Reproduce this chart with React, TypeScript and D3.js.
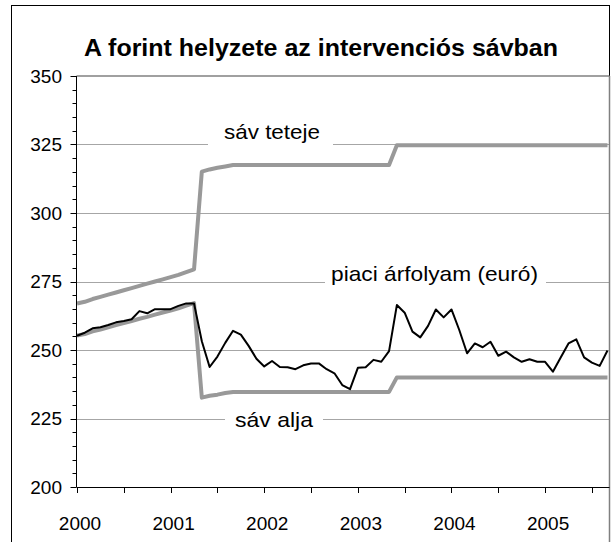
import React from 'react';
import * as d3 from 'd3';

const xTickLabels = ['2000', '2001', '2002', '2003', '2004', '2005'];
const yTicks = [200, 225, 250, 275, 300, 325, 350];
const gridValues = [225, 250, 275, 300, 325];

const upperBand = [
  267.0, 267.6, 268.6, 269.4, 270.2, 271.0, 271.8, 272.6, 273.4, 274.2, 275.0, 275.8, 276.6, 277.4, 278.4, 279.4,
  315.1, 315.9, 316.5, 317.0,
  317.5, 317.5, 317.5, 317.5, 317.5, 317.5, 317.5, 317.5, 317.5, 317.5, 317.5, 317.5, 317.5, 317.5, 317.5, 317.5,
  317.5, 317.5, 317.5, 317.5, 317.5,
  324.7, 324.7, 324.7, 324.7, 324.7, 324.7, 324.7, 324.7, 324.7, 324.7, 324.7, 324.7, 324.7, 324.7, 324.7, 324.7,
  324.7, 324.7, 324.7, 324.7, 324.7, 324.7, 324.7, 324.7, 324.7, 324.7, 324.7, 324.7,
];

const lowerBand = [
  255.3, 255.8, 256.8, 257.5, 258.3, 259.1, 259.8, 260.6, 261.4, 262.1, 262.9, 263.7, 264.4, 265.2, 266.2, 267.1,
  232.6, 233.3, 233.7, 234.3,
  234.7, 234.7, 234.7, 234.7, 234.7, 234.7, 234.7, 234.7, 234.7, 234.7, 234.7, 234.7, 234.7, 234.7, 234.7, 234.7,
  234.7, 234.7, 234.7, 234.7, 234.7,
  240.0, 240.0, 240.0, 240.0, 240.0, 240.0, 240.0, 240.0, 240.0, 240.0, 240.0, 240.0, 240.0, 240.0, 240.0, 240.0,
  240.0, 240.0, 240.0, 240.0, 240.0, 240.0, 240.0, 240.0, 240.0, 240.0, 240.0, 240.0,
];

const marketRate = [
  255.2, 256.3, 257.9, 258.3, 259.1, 260.1, 260.6, 261.2, 264.2, 263.4, 264.9, 264.9, 264.9, 266.1, 267.0, 267.0,
  253.2, 243.8, 247.6, 252.6, 257.0, 255.6, 251.5, 246.8, 244.0, 246.0, 243.8, 243.7, 243.0, 244.4, 245.1, 245.1,
  243.0, 241.5, 237.2, 235.7, 243.5, 243.7, 246.4, 245.7, 249.6, 266.4, 263.6, 256.7, 254.6, 258.8, 264.8, 261.9,
  264.8, 257.3, 248.8, 252.4, 251.0, 253.0, 247.9, 249.4, 247.3, 245.7, 246.6, 245.7, 245.7, 242.1, 247.3, 252.4,
  253.9, 247.3, 245.4, 244.2, 249.8,
];

const FONT = '"Liberation Sans", Arial, sans-serif';

export default function App() {
  const W = 612;
  const H = 542;
  const plotLeft = 76.5;
  const plotRight = 609.5;
  const plotTop = 76;
  const plotBottom = 487;

  const x = d3.scaleLinear().domain([0, marketRate.length - 1]).range([77, 607.5]);
  const y = d3.scaleLinear().domain([200, 350]).range([plotBottom, plotTop]);

  const line = d3
    .line<number>()
    .x((_, i) => x(i))
    .y((d) => y(d));

  const minorTicks = d3.range(200, 351, 5).filter((v) => v % 25 !== 0);
  const xTicks = d3.range(0, marketRate.length, 6);

  return (
    <svg
      width={W}
      height={H}
      style={{ position: 'absolute', left: 0, top: 0, background: '#fff' }}
      fontFamily={FONT}
    >
      <rect x={0} y={0} width={W} height={H} fill="#fff" />
      {/* outer frame */}
      <rect x={11.5} y={5.5} width={598} height={560} fill="none" stroke="#000" strokeWidth={1} />

      {/* title */}
      <text
        x={321}
        y={56}
        textAnchor="middle"
        fontSize={24}
        fontWeight="bold"
        textLength={474}
        lengthAdjust="spacingAndGlyphs"
      >
        A forint helyzete az intervenciós sávban
      </text>

      {/* gridlines */}
      {gridValues.map((v) => (
        <line key={v} x1={plotLeft} x2={plotRight} y1={Math.round(y(v)) + 0.5} y2={Math.round(y(v)) + 0.5} stroke="#a6a6a6" strokeWidth={1} />
      ))}

      {/* plot border top/right */}
      <line x1={plotLeft} x2={plotRight} y1={plotTop} y2={plotTop} stroke="#808080" strokeWidth={1.5} />
      <line x1={plotRight} x2={plotRight} y1={plotTop} y2={H} stroke="#808080" strokeWidth={1.5} />

      {/* series label boxes */}
      <rect x={208} y={128} width={125} height={20} fill="#fff" />
      <rect x={325} y={262} width={221} height={24} fill="#fff" />
      <rect x={225} y={408} width={98} height={24} fill="#fff" />

      <text x={224} y={139} fontSize={21} textLength={96} lengthAdjust="spacingAndGlyphs">sáv teteje</text>
      <text x={331} y={281} fontSize={21} textLength={207} lengthAdjust="spacingAndGlyphs">piaci árfolyam (euró)</text>
      <text x={235} y={427} fontSize={21} textLength={78} lengthAdjust="spacingAndGlyphs">sáv alja</text>

      {/* band lines */}
      <path d={line(upperBand) || ''} fill="none" stroke="#999999" strokeWidth={4} strokeLinejoin="round" />
      <path d={line(lowerBand) || ''} fill="none" stroke="#999999" strokeWidth={4} strokeLinejoin="round" />
      {/* market rate */}
      <path d={line(marketRate) || ''} fill="none" stroke="#000" strokeWidth={2} strokeLinejoin="round" />

      {/* y axis */}
      <line x1={plotLeft} x2={plotLeft} y1={plotTop} y2={plotBottom} stroke="#000" strokeWidth={1} />
      {yTicks.map((v) => (
        <g key={v}>
          <line x1={plotLeft - 6} x2={plotLeft} y1={Math.round(y(v)) + 0.5} y2={Math.round(y(v)) + 0.5} stroke="#000" />
          <text x={62} y={y(v) + 6.7} textAnchor="end" fontSize={19}>
            {v}
          </text>
        </g>
      ))}
      {minorTicks.map((v) => (
        <line key={v} x1={plotLeft - 4} x2={plotLeft} y1={Math.round(y(v)) + 0.5} y2={Math.round(y(v)) + 0.5} stroke="#000" />
      ))}

      {/* x axis */}
      <line x1={plotLeft} x2={plotRight} y1={plotBottom + 0.5} y2={plotBottom + 0.5} stroke="#000" strokeWidth={1} />
      {xTicks.map((i) => (
        <line key={i} x1={Math.round(x(i)) + 0.5} x2={Math.round(x(i)) + 0.5} y1={plotBottom} y2={plotBottom + 6} stroke="#000" />
      ))}
      {xTickLabels.map((lab, k) => (
        <text key={lab} x={x(k * 12) + 3} y={530} textAnchor="middle" fontSize={19}>
          {lab}
        </text>
      ))}
    </svg>
  );
}
